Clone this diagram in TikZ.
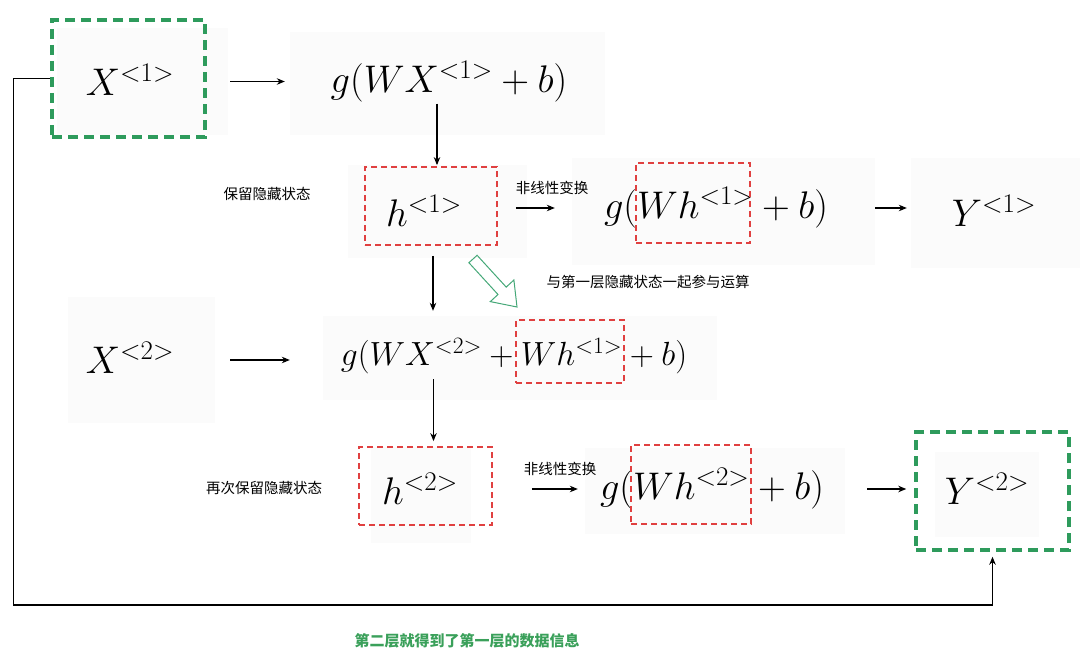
\RequirePackage{fix-cm}
\documentclass[tikz,border=0pt]{standalone}
\usepackage{fontspec}
\newfontfamily\cjk{Noto Sans CJK SC}
\usetikzlibrary{arrows.meta}
\definecolor{gbox}{HTML}{2E9B5C}
\definecolor{rbox}{HTML}{E04040}
\definecolor{imgbg}{HTML}{FBFBFB}
\definecolor{gtext}{HTML}{3AA05A}
\definecolor{garrow}{HTML}{45A878}
\begin{document}
\begin{tikzpicture}[x=1pt,y=-1pt,
 img/.style={fill=imgbg, draw=none, inner sep=0pt},
 gbx/.style={draw=gbox, line width=3.5pt, dash pattern=on 10pt off 6pt, inner sep=0pt},
 rbx/.style={draw=rbox, line width=1.8pt, dash pattern=on 6pt off 4pt, inner sep=0pt},
 mth/.style={font=\fontsize{38.5}{40}\selectfont, inner sep=0pt},
 mths/.style={font=\fontsize{33.5}{35}\selectfont, inner sep=0pt},
 lbl/.style={font=\fontsize{14.5}{16}\selectfont\cjk, inner sep=0pt},
 arr/.style={-{Stealth[length=8pt,width=6.5pt]}, line width=1.1pt},
]
\useasboundingbox (0,0) rectangle (1080,669);
% faint image backgrounds
\node[img, minimum width=171, minimum height=107] (imgX1) at (142.5,81.5) {};
\node[img, minimum width=315, minimum height=103] (imgG1) at (447.5,83.5) {};
\node[img, minimum width=179, minimum height=93] (imgH1) at (437.5,211.5) {};
\node[img, minimum width=303, minimum height=107] (imgG2) at (723.5,211.5) {};
\node[img, minimum width=169, minimum height=110] (imgY1) at (995.5,213) {};
\node[img, minimum width=147, minimum height=126] (imgX2) at (141.5,360) {};
\node[img, minimum width=394, minimum height=84] (imgG3) at (520,358) {};
\node[img, minimum width=100, minimum height=96] (imgH2) at (421,495) {};
\node[img, minimum width=260, minimum height=86] (imgG4) at (715,491) {};
\node[img, minimum width=104, minimum height=85] (imgY2) at (987,494.5) {};
% formulas
\node[mth] (X1) at (130,80) {$X^{<1>}$};
\node[mth] (f1) at (449,82) {$g(WX^{<1>}+b)$};
\node[mth] (h1) at (424,211) {$h^{<1>}$};
\node[mth] (f2) at (716,208) {$g(Wh^{<1>}+b)$};
\node[mth] (Y1) at (994,211) {$Y^{<1>}$};
\node[mth] (X2) at (130,358) {$X^{<2>}$};
\node[mths] (f3) at (514,356) {$g(WX^{<2>}+Wh^{<1>}+b)$};
\node[mth] (h2) at (420,489) {$h^{<2>}$};
\node[mth] (f4) at (712,489) {$g(Wh^{<2>}+b)$};
\node[mth] (Y2) at (987,489) {$Y^{<2>}$};
% dashed boxes
\node[gbx, minimum width=153, minimum height=117] (xbox1) at (128.5,78.5) {};
\node[rbx, minimum width=132, minimum height=78] (hbox1) at (431,206) {};
\node[rbx, minimum width=114, minimum height=80] (hb2) at (693,203) {};
\node[rbx, minimum width=108, minimum height=63] (hb3) at (570,351.5) {};
\node[rbx, minimum width=133, minimum height=78] (hbox2) at (425.5,486) {};
\node[rbx, minimum width=120, minimum height=79] (hb4) at (691,484.5) {};
\node[gbx, minimum width=153, minimum height=118] (ybox2) at (992.5,491) {};
% labels
\node[lbl] (l1) at (267,194) {保留隐藏状态};
\node[lbl] (l2) at (552,188) {非线性变换};
\node[lbl] (l3) at (648,282) {与第一层隐藏状态一起参与运算};
\node[lbl] (l4) at (264,488) {再次保留隐藏状态};
\node[lbl] (l5) at (560,469) {非线性变换};
\node[lbl, text=gtext, font=\fontsize{15}{17}\selectfont\cjk\bfseries] (l6) at (467,641) {第二层就得到了第一层的数据信息};
% arrows
\draw[arr, shorten <=2, shorten >=5] (imgX1.east) -- (imgX1.east -| imgG1.west);
\draw[arr, shorten <=1, shorten >=1] ([xshift=6]hbox1.north |- f1.south) -- ([xshift=6]hbox1.north);
\draw[arr, shorten <=18, shorten >=17] (hbox1.east |- f2.west) -- (imgG2.west |- f2.west);
\draw[arr, shorten >=4] (imgG2.east |- f2.east) -- (imgY1.west |- f2.east);
\draw[arr, shorten <=10, shorten >=5] ([xshift=2]hbox1.south) -- ([xshift=2]hbox1.south |- imgG3.north);
\draw[arr, shorten <=15, shorten >=33] (imgX2.east) -- (imgX2.east -| imgG3.west);
\draw[arr, shorten <=5, shorten >=5] ([xshift=8]hbox2.north |- f3.south) -- ([xshift=8]hbox2.north);
\draw[arr, shorten <=39, shorten >=7] (hbox2.east |- f4.west) -- (imgG4.west |- f4.west);
\draw[arr, shorten <=22, shorten >=8] (imgG4.east |- f4.east) -- (ybox2.west |- f4.east);
\draw[arr, shorten >=5] (xbox1.west) -- ++(-37,0) -- ++(0,526.5) -| (ybox2.south);
% hollow green block arrow
\draw[garrow, line width=1pt, line join=miter]
  (477.1,255.3) -- (506.2,287.1) -- (513.9,280.0) -- (517,307) -- (490.3,301.6) -- (498.0,294.5) -- (468.9,262.7) -- cycle;
\end{tikzpicture}
\end{document}
